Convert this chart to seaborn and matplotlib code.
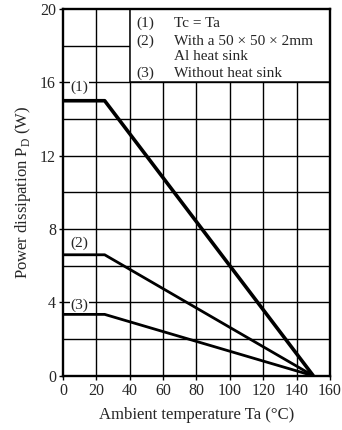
import matplotlib
matplotlib.use("Agg")
import matplotlib.pyplot as plt
import seaborn as sns
import pandas as pd
from matplotlib.patches import Rectangle

# Derating curves: ambient temperature (°C) vs allowable power dissipation (W)
temps = [0, 25, 150]
pd_tc_eq_ta = [15.0, 15.0, 0.0]
pd_with_sink = [6.6, 6.6, 0.0]
pd_no_sink = [3.35, 3.35, 0.0]
curve_names = ["(1)", "(2)", "(3)"]

x_ticks = [0, 20, 40, 60, 80, 100, 120, 140, 160]
y_ticks = [0, 4, 8, 12, 16, 20]

legend_lines = [
    ("(1)", "Tc = Ta"),
    ("(2)", "With a 50 × 50 × 2mm"),
    ("", "Al heat sink"),
    ("(3)", "Without heat sink"),
]

sns.set_theme(style="white")
plt.rcParams["font.family"] = ["Liberation Serif", "DejaVu Serif"]
plt.rcParams["mathtext.fontset"] = "custom"
plt.rcParams["mathtext.rm"] = "Liberation Serif"

rows = []
for name, vals in zip(curve_names, [pd_tc_eq_ta, pd_with_sink, pd_no_sink]):
    for t, p in zip(temps, vals):
        rows.append({"Ta": t, "PD": p, "curve": name})
df = pd.DataFrame(rows)

fig = plt.figure(figsize=(3.42, 4.30), dpi=100)
ax = fig.add_axes([0.184, 0.126, 0.781, 0.853])

# grid: every 20 °C and every 2 W
for x in range(20, 160, 20):
    ax.axvline(x, color="black", lw=1.0, zorder=1)
for y in range(2, 20, 2):
    ax.axhline(y, color="black", lw=1.0, zorder=1)

# legend box blanks out the upper-right grid cells
ax.add_patch(Rectangle((40, 16), 120, 4, facecolor="white", edgecolor="black",
                       lw=1.1, zorder=2))

sns.lineplot(data=df, x="Ta", y="PD", hue="curve", units="curve", estimator=None,
             palette=["black"] * 3, legend=False, ax=ax, zorder=3)
for line, lw in zip(ax.get_lines()[-3:], [2.6, 2.0, 2.0]):
    line.set_linewidth(lw)
    line.set_solid_capstyle("butt")

label_pos = [(10, 15.75), (10, 7.25), (10, 3.85)]
for name, (x, y) in zip(curve_names, label_pos):
    ax.text(x, y, name, fontsize=11, ha="center", va="center", zorder=4,
            bbox=dict(facecolor="white", edgecolor="none", pad=0.6))

leg_y = [19.2, 18.25, 17.4, 16.5]
for (num, txt), y in zip(legend_lines, leg_y):
    if num:
        ax.text(44, y, num, fontsize=11, va="center", zorder=4)
    ax.text(66.5, y, txt, fontsize=11, va="center", zorder=4)

ax.set_xlim(0, 160)
ax.set_ylim(0, 20)
ax.set_xticks(x_ticks)
ax.set_yticks(y_ticks)
ax.tick_params(axis="both", direction="out", length=3, width=1, labelsize=11.5,
               pad=2, bottom=True, left=True, color="black")
for s in ax.spines.values():
    s.set_color("black")
    s.set_linewidth(1.7)

ax.set_xlabel("Ambient temperature Ta (°C)", fontsize=12, labelpad=6)
ax.set_ylabel(r"Power dissipation P$_{\rm D}$ (W)", fontsize=12, labelpad=5)

fig.savefig("out.png", dpi=100)
